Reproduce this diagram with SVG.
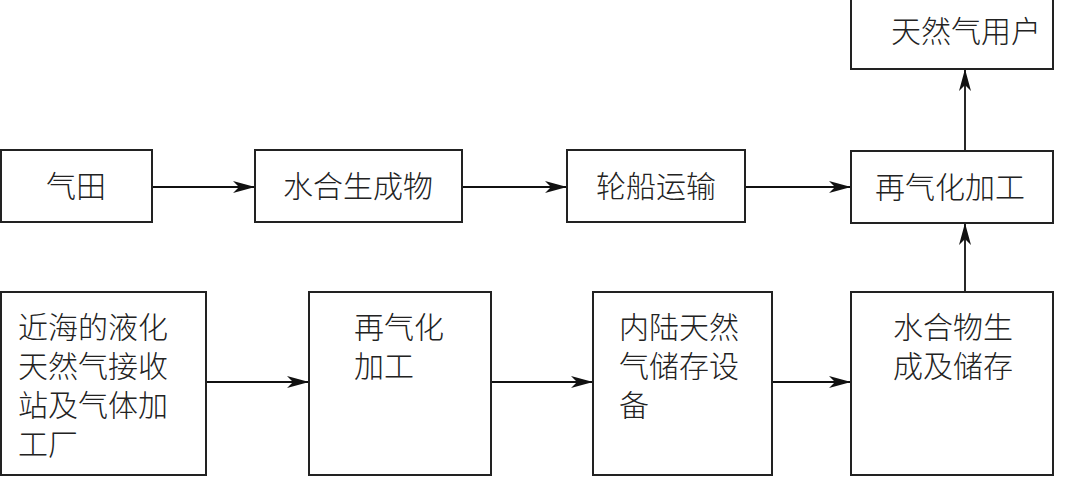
<svg xmlns="http://www.w3.org/2000/svg" width="1067" height="477" viewBox="0 0 1067 477">
<style>
.box{fill:#fff;stroke:#222;stroke-width:2}
.t{font-family:"Noto Sans CJK SC","Noto Sans CJK JP",sans-serif;font-size:30px;fill:#222;font-weight:300}
.ln{stroke:#111;stroke-width:1.8;fill:none}
</style>
<defs>
<marker id="ah" viewBox="0 0 22 12" refX="22" refY="6" markerWidth="22" markerHeight="12" markerUnits="userSpaceOnUse" orient="auto">
<path d="M0,0 L22,6 L0,12 L6,6 Z" fill="#111"/>
</marker>
</defs>
<rect width="1067" height="477" fill="#fff"/>
<g id="connectors">
<line class="ln" x1="152" y1="187" x2="255" y2="187" marker-end="url(#ah)"/>
<line class="ln" x1="462" y1="187" x2="567" y2="187" marker-end="url(#ah)"/>
<line class="ln" x1="745" y1="187" x2="851" y2="187" marker-end="url(#ah)"/>
<line class="ln" x1="965" y1="151" x2="965" y2="69" marker-end="url(#ah)"/>
<line class="ln" x1="965" y1="292" x2="965" y2="223" marker-end="url(#ah)"/>
<line class="ln" x1="206" y1="382" x2="309" y2="382" marker-end="url(#ah)"/>
<line class="ln" x1="491" y1="382" x2="593" y2="382" marker-end="url(#ah)"/>
<line class="ln" x1="772" y1="382" x2="851" y2="382" marker-end="url(#ah)"/>
</g>
<g id="n-gasfield"><rect class="box" x="1" y="150" width="151" height="72"/><text class="t" x="76" y="197" text-anchor="middle">气田</text></g>
<g id="n-hydrate"><rect class="box" x="255" y="150" width="207" height="72"/><text class="t" x="358" y="197" text-anchor="middle">水合生成物</text></g>
<g id="n-ship"><rect class="box" x="567" y="150" width="178" height="72"/><text class="t" x="656" y="197" text-anchor="middle">轮船运输</text></g>
<g id="n-regas-top"><rect class="box" x="851" y="151" width="202" height="72"/><text class="t" x="950" y="198" text-anchor="middle">再气化加工</text></g>
<g id="n-users"><rect class="box" x="851" y="-2" width="202" height="71"/><text class="t" x="966" y="42" text-anchor="middle">天然气用户</text></g>
<g id="n-terminal"><rect class="box" x="1" y="292" width="205" height="183"/>
<text class="t" x="18" y="338">近海的液化</text>
<text class="t" x="18" y="377">天然气接收</text>
<text class="t" x="18" y="416">站及气体加</text>
<text class="t" x="18" y="455">工厂</text></g>
<g id="n-regas-bottom"><rect class="box" x="309" y="292" width="182" height="183"/>
<text class="t" x="354" y="338">再气化</text>
<text class="t" x="354" y="377">加工</text></g>
<g id="n-storage"><rect class="box" x="593" y="292" width="179" height="183"/>
<text class="t" x="619" y="338">内陆天然</text>
<text class="t" x="619" y="377">气储存设</text>
<text class="t" x="619" y="416">备</text></g>
<g id="n-hydrate-store"><rect class="box" x="851" y="292" width="202" height="183"/>
<text class="t" x="893" y="338">水合物生</text>
<text class="t" x="893" y="377">成及储存</text></g>
</svg>
